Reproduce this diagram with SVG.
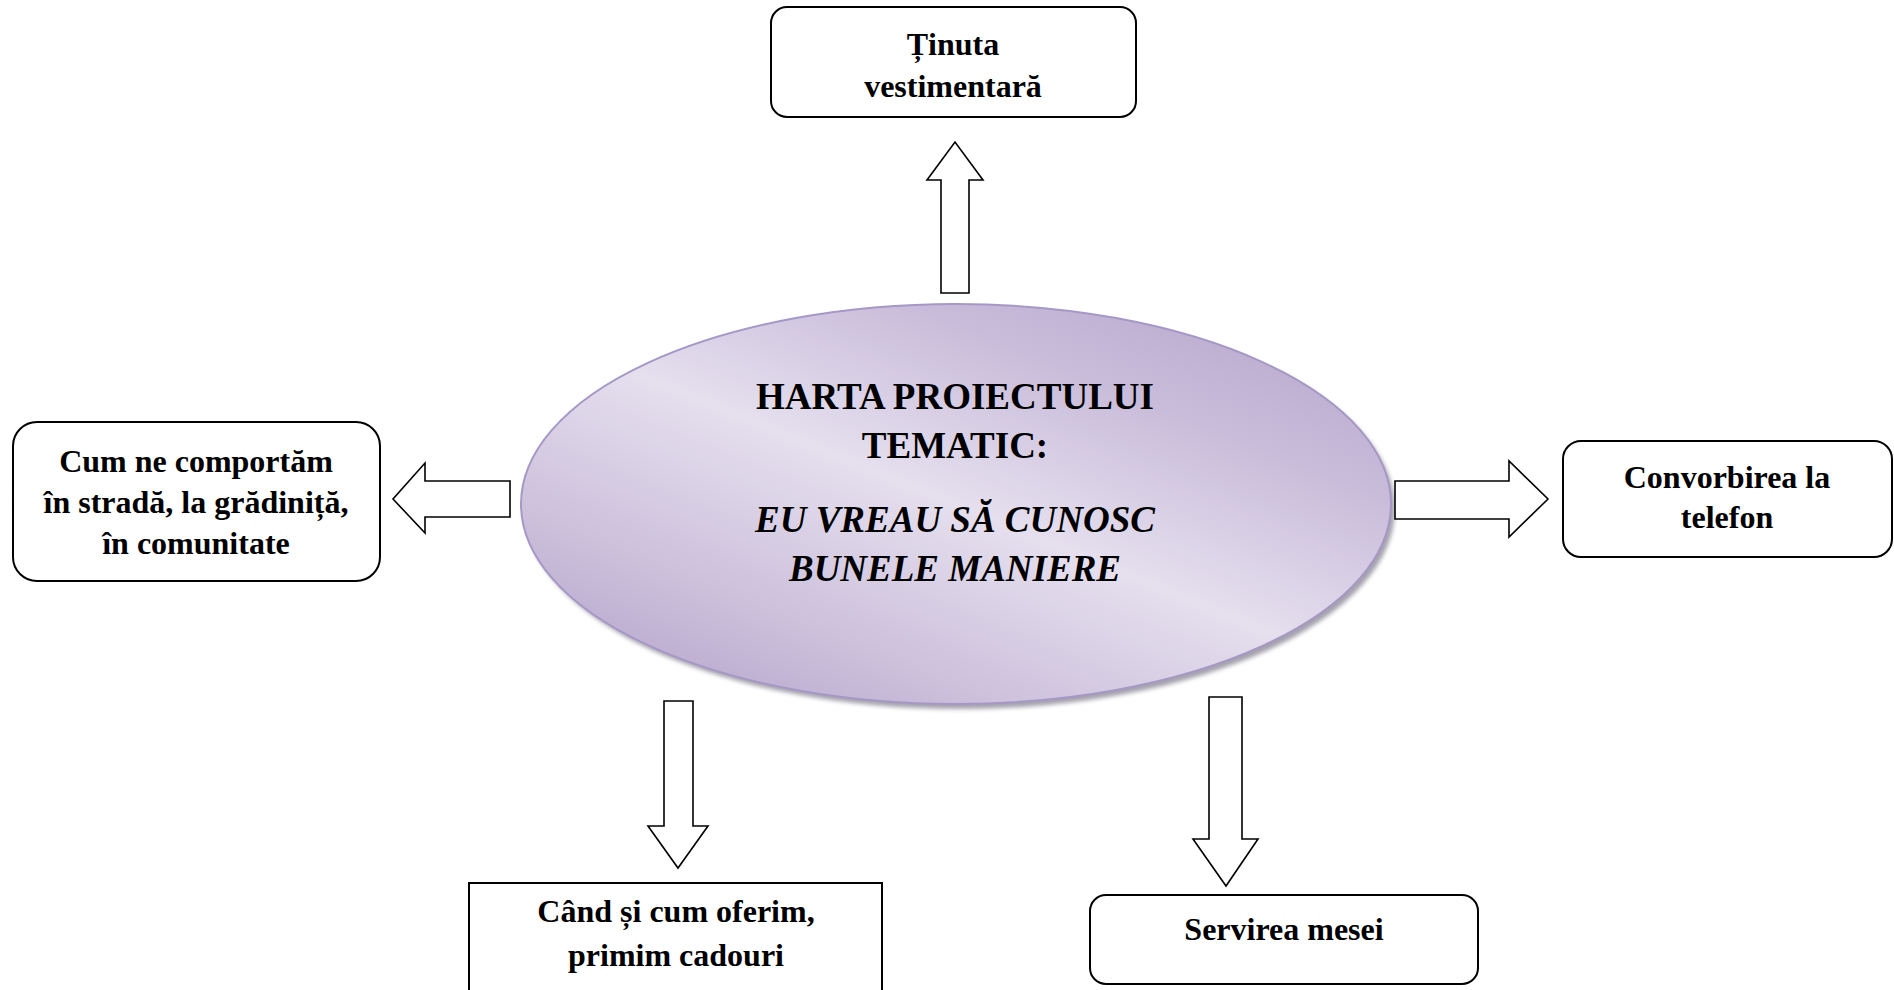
<svg xmlns="http://www.w3.org/2000/svg" width="1894" height="990" viewBox="0 0 1894 990">
  <style>
    .box { fill: #ffffff; stroke: #000000; stroke-width: 2; }
    .arrow { fill: #ffffff; stroke: #000000; stroke-width: 1.6; stroke-linejoin: miter; }
    .lbl { font-family: "Liberation Serif", "Times New Roman", serif; font-weight: bold; font-size: 32px; fill: #000000; text-anchor: middle; }
    .title { font-family: "Liberation Serif", "Times New Roman", serif; font-weight: bold; font-size: 37px; fill: #000000; text-anchor: middle; }
    .it { font-style: italic; }
  </style>
  <defs>
    <linearGradient id="ellGrad" x1="0.9" y1="0.05" x2="0.1" y2="0.95">
      <stop offset="0" stop-color="#b9a9ce"/>
      <stop offset="0.22" stop-color="#c9bcda"/>
      <stop offset="0.5" stop-color="#e5dfee"/>
      <stop offset="0.78" stop-color="#cdc1dc"/>
      <stop offset="1" stop-color="#b7a6cc"/>
    </linearGradient>
    <filter id="shadowBlur" x="-10%" y="-10%" width="120%" height="120%">
      <feGaussianBlur stdDeviation="2"/>
    </filter>
  </defs>
  <rect width="1894" height="990" fill="#ffffff"/>

  <g id="center">
    <ellipse cx="960" cy="509" rx="435" ry="200" fill="#8e8a99" opacity="0.8" filter="url(#shadowBlur)"/>
    <ellipse cx="956" cy="504" rx="435" ry="200" fill="url(#ellGrad)" stroke="#a698c6" stroke-width="2"/>
    <text class="title" x="955" y="409">HARTA PROIECTULUI</text>
    <text class="title" x="955" y="458">TEMATIC:</text>
    <text class="title it" x="955" y="532">EU VREAU SĂ CUNOSC</text>
    <text class="title it" x="955" y="581">BUNELE MANIERE</text>
  </g>

  <g id="connectors">
    <polygon class="arrow" points="941,293 941,180 927,180 955,142 983,180 969,180 969,293"/>
    <polygon class="arrow" points="510,481 425,481 425,463 393,499 425,533 425,517 510,517"/>
    <polygon class="arrow" points="1395,481 1509,481 1509,461 1548,499 1509,537 1509,519 1395,519"/>
    <polygon class="arrow" points="664,701 693,701 693,826 708,826 678,868 648,826 664,826"/>
    <polygon class="arrow" points="1209,697 1242,697 1242,839 1258,839 1226,886 1193,839 1209,839"/>
  </g>

  <g id="node-tinuta">
    <rect class="box" x="771" y="7" width="365" height="110" rx="16" ry="16"/>
    <text class="lbl" x="953" y="55">Ținuta</text>
    <text class="lbl" x="953" y="97">vestimentară</text>
  </g>

  <g id="node-comportam">
    <rect class="box" x="13" y="422" width="367" height="159" rx="24" ry="24"/>
    <text class="lbl" x="196" y="472">Cum ne comportăm</text>
    <text class="lbl" x="196" y="513">în stradă, la grădiniță,</text>
    <text class="lbl" x="196" y="554">în comunitate</text>
  </g>

  <g id="node-convorbirea">
    <rect class="box" x="1563" y="441" width="329" height="116" rx="18" ry="18"/>
    <text class="lbl" x="1727" y="488">Convorbirea la</text>
    <text class="lbl" x="1727" y="528">telefon</text>
  </g>

  <g id="node-cadouri">
    <rect class="box" x="469" y="883" width="413" height="130"/>
    <text class="lbl" x="676" y="922">Când și cum oferim,</text>
    <text class="lbl" x="676" y="966">primim cadouri</text>
  </g>

  <g id="node-servirea">
    <rect class="box" x="1090" y="895" width="388" height="89" rx="16" ry="16"/>
    <text class="lbl" x="1284" y="940">Servirea mesei</text>
  </g>
</svg>
